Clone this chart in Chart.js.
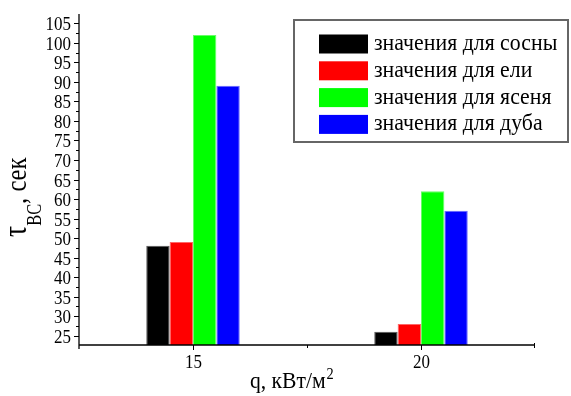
<!DOCTYPE html>
<html>
<head>
<meta charset="utf-8">
<script src="https://cdn.jsdelivr.net/npm/chart.js@4.4.0/dist/chart.umd.min.js"></script>
<style>
  html, body { margin: 0; padding: 0; background: #fff; }
  #wrap { width: 571px; height: 396px; }
</style>
</head>
<body>
<div id="wrap"><canvas id="woodChart" width="571" height="396"></canvas></div>
<script>
// данные с графика
var categories = ['15', '20'];
var pine = [48, 26];    // сосна
var spruce = [49, 28];  // ель
var ash = [102, 62];    // ясень
var oak = [89, 57];     // дуб
var seriesNames = ['значения для сосны', 'значения для ели', 'значения для ясеня', 'значения для дуба'];
var seriesColors = ['#000000', '#ff0000', '#00ff00', '#0000ff'];
var borderColors = ['#555555', '#ff6666', '#66ff66', '#6666ff'];

var FONT = '"Liberation Serif", "DejaVu Serif", serif';

// текст сжат по горизонтали, как в оригинале
function squeezedText(c, text, x, y, size, sx, align) {
    c.save();
    c.font = size + 'px ' + FONT;
    var w = c.measureText(text).width * sx;
    var left = x;
    if (align === 'center') left = x - w / 2;
    if (align === 'right') left = x - w;
    c.translate(left, y);
    c.scale(sx, 1);
    c.textAlign = 'left';
    c.fillText(text, 0, 0);
    c.restore();
    return w;
}

// оси, подписи и легенда рисуются вручную
var axisDecor = {
    id: 'axisDecor',
    afterDraw: function (chart) {
        var c = chart.ctx;
        var xs = chart.scales.x, ys = chart.scales.y;
        var area = chart.chartArea;
        c.save();
        c.strokeStyle = '#000';
        c.fillStyle = '#000';
        c.textBaseline = 'alphabetic';
        c.lineWidth = 1.3;
        // ось Y
        c.beginPath();
        c.moveTo(area.left, area.top);
        c.lineTo(area.left, area.bottom + 4);
        c.stroke();
        // ось X
        c.beginPath();
        c.moveTo(area.left, area.bottom);
        c.lineTo(area.right, area.bottom);
        c.stroke();
        c.lineWidth = 1;
        // деления и подписи Y
        ys.ticks.forEach(function (t) {
            var y = Math.round(ys.getPixelForValue(t.value)) + 0.5;
            var major = Math.abs(t.value % 5) < 0.001;
            c.beginPath();
            c.moveTo(area.left - (major ? 5 : 3), y);
            c.lineTo(area.left, y);
            c.stroke();
            if (major) squeezedText(c, String(t.value), 71, y + 6.5, 19.5, 0.87, 'right');
        });
        // деления и подписи X
        for (var i = 0; i < categories.length; i++) {
            var x = Math.round(xs.getPixelForValue(i)) + 0.5;
            c.beginPath();
            c.moveTo(x, area.bottom);
            c.lineTo(x, area.bottom + 5);
            c.stroke();
            squeezedText(c, categories[i], x, 368, 19.5, 0.87, 'center');
        }
        var mid = Math.round((xs.getPixelForValue(0) + xs.getPixelForValue(1)) / 2) + 0.5;
        c.beginPath();
        c.moveTo(mid, area.bottom);
        c.lineTo(mid, area.bottom + 3);
        c.stroke();
        c.beginPath();
        c.moveTo(area.right - 0.5, area.bottom - 2);
        c.lineTo(area.right - 0.5, area.bottom + 3);
        c.stroke();

        // подпись оси X
        var w = squeezedText(c, 'q, кВт/м', 250, 388, 24, 0.9, 'left');
        squeezedText(c, '2', 250 + w + 1, 379, 16, 0.9, 'left');

        // подпись оси Y (повёрнута)
        c.save();
        c.translate(26, 237);
        c.rotate(-Math.PI / 2);
        c.scale(0.82, 1);
        c.textAlign = 'left';
        c.font = '34px ' + FONT;
        c.fillText('τ', 0, 0);
        var tw = c.measureText('τ').width;
        c.font = '20px ' + FONT;
        c.fillText('ВС', tw, 15);
        var bw = c.measureText('ВС').width;
        c.font = '30px ' + FONT;
        c.fillText(', сек', tw + bw, 0);
        c.restore();

        // легенда
        c.strokeStyle = '#666';
        c.lineWidth = 2;
        c.strokeRect(294, 20, 274, 122);
        chart.data.datasets.forEach(function (ds, k) {
            var cy = 44 + k * 26.8;
            c.fillStyle = ds.backgroundColor;
            c.fillRect(319, cy - 9.5, 49, 19);
            c.fillStyle = '#000';
            squeezedText(c, ds.label, 374, cy + 6, 22.5, 0.97, 'left');
        });
        c.restore();
    }
};

var ctx = document.getElementById('woodChart').getContext('2d');
var woodChart = new Chart(ctx, {
    type: 'bar',
    data: {
        labels: categories,
        datasets: [pine, spruce, ash, oak].map(function (vals, k) {
            return {
                label: seriesNames[k],
                data: vals,
                backgroundColor: seriesColors[k],
                borderColor: borderColors[k],
                borderWidth: 1,
                barPercentage: 1.0,
                categoryPercentage: 0.41
            };
        })
    },
    plugins: [axisDecor],
    options: {
        responsive: false,
        animation: false,
        devicePixelRatio: 1,
        layout: { padding: { left: 0, top: 14, right: 36, bottom: 0 } },
        plugins: {
            legend: { display: false },
            tooltip: { enabled: false }
        },
        scales: {
            x: {
                type: 'category',
                offset: true,
                grid: { display: false, drawTicks: false },
                border: { display: false },
                ticks: { display: false },
                afterFit: function (scale) { scale.height = 51; }
            },
            y: {
                min: 22.6,
                max: 107.4,
                grid: { display: false, drawTicks: false },
                border: { display: false },
                ticks: {
                    display: false,
                    stepSize: 2.5,
                    includeBounds: false,
                    autoSkip: false
                },
                afterFit: function (scale) { scale.width = 79; }
            }
        }
    }
});
</script>
</body>
</html>
